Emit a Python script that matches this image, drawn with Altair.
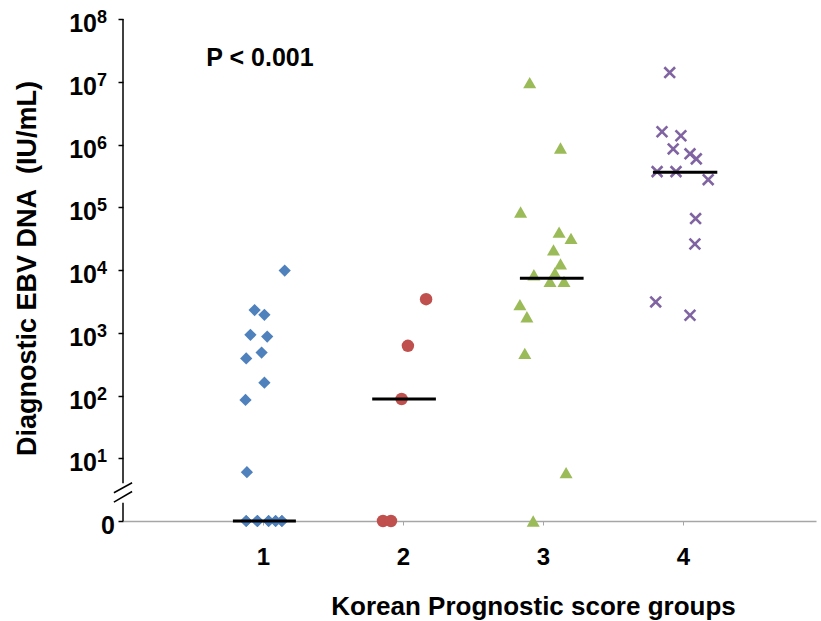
import math

import altair as alt
import pandas as pd

FONT = "Liberation Sans"

GROUPS = [1, 2, 3, 4]

# Diagnostic EBV DNA (IU/mL) per patient and the horizontal scatter offset of each point
G1_DNA = [9800, 2300, 1930, 925, 870, 484, 390, 160, 85, 6,
          0, 0, 0, 0, 0, 0, 0, 0, 0, 0, 0]
G1_JITTER = [0.155, -0.06, 0.01, -0.09, 0.03, -0.01, -0.12, 0.01, -0.125, -0.115,
             -0.12, -0.12, -0.04, -0.04, -0.04, 0.04, 0.04, 0.09, 0.09, 0.135, 0.135]
G2_DNA = [3430, 620, 88, 0, 0]
G2_JITTER = [0.165, 0.035, -0.01, -0.143, -0.086]
G3_DNA = [9.7e6, 8.8e5, 8.4e4, 4.0e4, 3.2e4, 2.1e4, 1.25e4, 8400, 9000,
          6600, 6600, 2800, 1800, 470, 5.9, 0]
G3_JITTER = [-0.095, 0.125, -0.16, 0.115, 0.2, 0.075, 0.125, -0.065, 0.085,
             0.05, 0.15, -0.165, -0.115, -0.13, 0.165, -0.07]
G4_DNA = [1.4e7, 1.6e6, 1.38e6, 8.5e5, 7.1e5, 5.9e5, 3.7e5, 3.7e5, 2.75e5,
          6.6e4, 2.6e4, 3100, 1900]
G4_JITTER = [-0.095, -0.15, -0.015, -0.07, 0.05, 0.095, -0.185, -0.05, 0.18,
             0.09, 0.085, -0.195, 0.05]

# Group medians (IU/mL) and the extent of each median bar around its group
MEDIANS = [0, 88, 7400, 3.6e5]
MEDIAN_LO = [-0.215, -0.22, -0.165, -0.215]
MEDIAN_HI = [0.235, 0.235, 0.29, 0.245]

EXPONENTS = [1, 2, 3, 4, 5, 6, 7, 8]

COLORS = ["#4f81bd", "#c0504d", "#9bbb59", "#8064a2"]
SHAPES = ["diamond", "circle", "triangle-up", "M-1,-1L1,1M-1,1L1,-1"]
SIZES = [150, 155, 170, 115]


def pos(v):
    """Position on the broken log axis: zero sits at the 10^0 level."""
    return math.log10(v) if v > 0 else 0.0


series = [(G1_DNA, G1_JITTER), (G2_DNA, G2_JITTER), (G3_DNA, G3_JITTER), (G4_DNA, G4_JITTER)]
rows = []
for g, (vals, jit) in zip(GROUPS, series):
    for v, j in zip(vals, jit):
        rows.append({"group": g, "x": g + j, "dna": v, "logv": pos(v)})
points = pd.DataFrame(rows)

medians = pd.DataFrame({
    "group": GROUPS,
    "x": [g + a for g, a in zip(GROUPS, MEDIAN_LO)],
    "x2": [g + b for g, b in zip(GROUPS, MEDIAN_HI)],
    "logv": [pos(v) for v in MEDIANS],
})

x_scale = alt.Scale(domain=[0, 4.95], nice=False, zero=False)
y_scale = alt.Scale(domain=[0, 8], nice=False, zero=False)

x_axis = alt.Axis(
    values=GROUPS, format="d", grid=False,
    domainColor="#a6a6a6", domainWidth=1.5,
    tickColor="#a6a6a6", tickSize=4, tickWidth=1,
    labelFont=FONT, labelFontSize=24, labelFontWeight="bold", labelColor="black",
    labelPadding=20,
    title="Korean Prognostic score groups",
    titleFont=FONT, titleFontSize=26, titleFontWeight="bold", titleColor="black",
    titleX=410, titleY=72, titleAlign="center", titleBaseline="top",
)
y_axis = alt.Axis(
    values=[0] + EXPONENTS, grid=False, domain=False, labels=False,
    tickColor="black", tickSize=5, tickWidth=1.5,
    title="Diagnostic EBV DNA\u00a0 (IU/mL)",
    titleFont=FONT, titleFontSize=27, titleFontWeight="bold", titleColor="black",
    titleX=-96, titleY=249, titleAngle=270, titleAlign="center", titleBaseline="middle",
)


def X(field="x"):
    return alt.X(f"{field}:Q", scale=x_scale, axis=x_axis)


def Y(field="logv"):
    return alt.Y(f"{field}:Q", scale=y_scale, axis=y_axis)


layers = []
for i, g in enumerate(GROUPS):
    sub = points[points["group"] == g]
    is_cross = SHAPES[i].startswith("M")
    mark = alt.Chart(sub).mark_point(
        shape=SHAPES[i], size=SIZES[i], opacity=1,
        filled=not is_cross,
        color=COLORS[i],
        strokeWidth=2.6 if is_cross else 0,
    )
    layers.append(mark.encode(x=X(), y=Y()))

median_bars = alt.Chart(medians).mark_rule(color="black", strokeWidth=3).encode(
    x=X(), x2="x2:Q", y=Y()
)

# Vertical axis line, interrupted by the break between 0 and 10^1
axis_segments = pd.DataFrame({"logv": [8.0, 0.29], "y2": [0.60, 0.0]})
axis_line = alt.Chart(axis_segments).mark_rule(color="black", strokeWidth=1.5).encode(
    x=alt.value(0), y=Y(), y2="y2:Q"
)
break_marks = pd.DataFrame({
    "x": [-0.065, -0.065], "x2": [0.065, 0.065],
    "logv": [0.45, 0.30], "y2": [0.61, 0.47],
})
axis_break = alt.Chart(break_marks).mark_rule(color="black", strokeWidth=1.5).encode(
    x=X(), x2="x2:Q", y=Y(), y2="y2:Q"
)

# Power-of-ten tick labels
ticks = pd.DataFrame({"logv": EXPONENTS, "exp": [str(e) for e in EXPONENTS]})
tick_base = alt.Chart(ticks).mark_text(
    text="10", align="right", baseline="middle", dy=5,
    font=FONT, fontSize=25, fontWeight="bold", color="black",
).encode(x=alt.value(-26), y=Y())
tick_exp = alt.Chart(ticks).mark_text(
    align="left", baseline="middle", dy=-1,
    font=FONT, fontSize=18, fontWeight="bold", color="black",
).encode(x=alt.value(-26), y=Y(), text="exp:N")
zero_label = alt.Chart(pd.DataFrame({"logv": [0]})).mark_text(
    text="0", align="right", baseline="middle", dy=5,
    font=FONT, fontSize=25, fontWeight="bold", color="black",
).encode(x=alt.value(-8), y=Y())

p_value = alt.Chart(pd.DataFrame({"label": ["P < 0.001"]})).mark_text(
    align="center", baseline="middle",
    font=FONT, fontSize=25, fontWeight="bold", color="black",
).encode(x=alt.value(137), y=alt.value(39), text="label:N")

chart = alt.layer(
    *layers, median_bars, axis_line, axis_break, tick_base, tick_exp, zero_label, p_value
).properties(
    width=693, height=502,
    autosize=alt.AutoSizeParams(type="none"),
    padding={"left": 123, "top": 19, "right": 5, "bottom": 100},
    background="white",
).configure_view(stroke=None)

chart.save("out.html", embed_options={"renderer": "svg", "actions": False})
